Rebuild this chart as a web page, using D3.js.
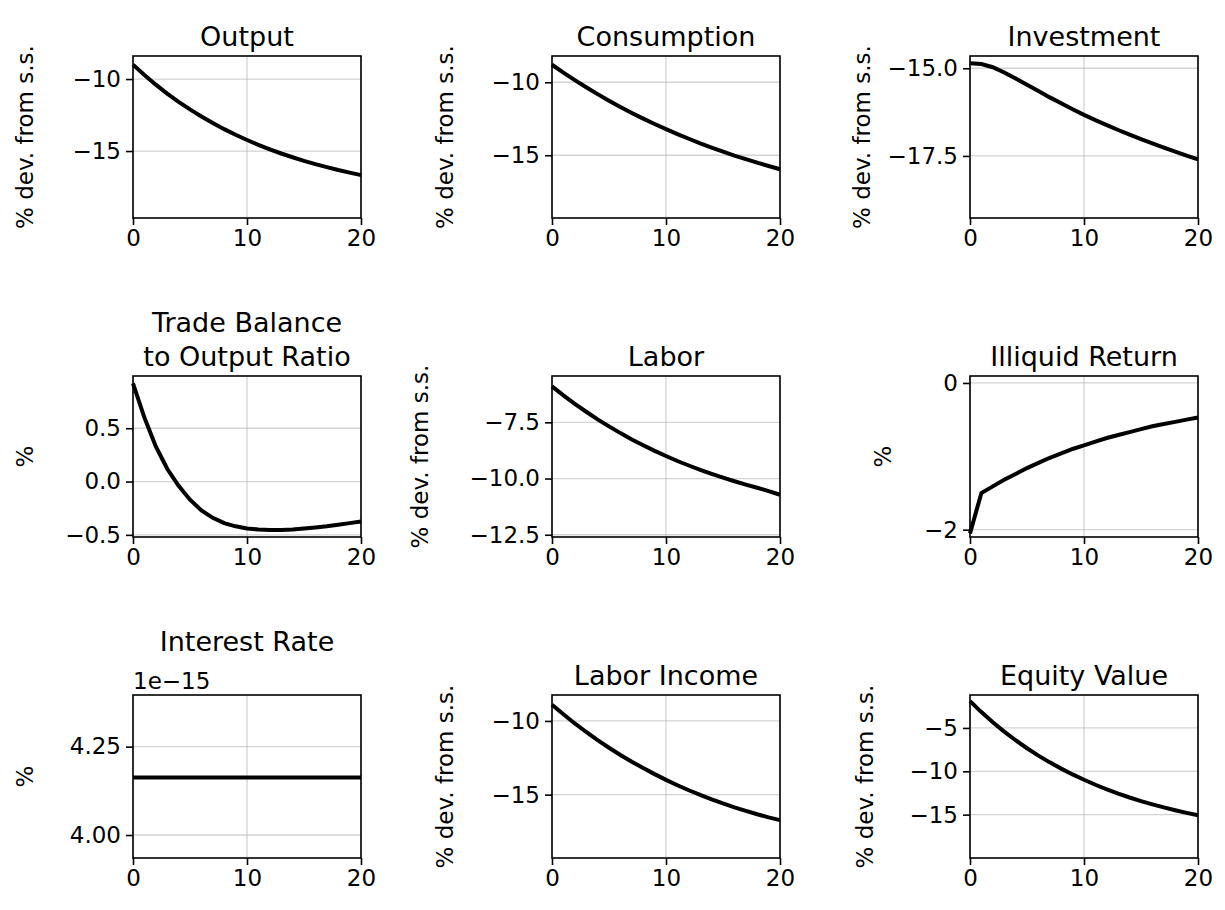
<!DOCTYPE html>
<html><head><meta charset="utf-8">
<script src="https://cdn.jsdelivr.net/npm/d3@7"></script>
<style>body{margin:0;background:#fff}text{font-family:"DejaVu Sans",sans-serif;fill:#000}</style>
</head><body><svg id="c" width="1225" height="910"></svg>
<script>
var periods = d3.range(0, 21);
var output = [-9.0,-9.72,-10.39,-11.01,-11.58,-12.11,-12.6,-13.06,-13.48,-13.87,-14.23,-14.57,-14.88,-15.17,-15.43,-15.68,-15.91,-16.12,-16.32,-16.5,-16.67];
var consumption = [-8.8,-9.34,-9.85,-10.34,-10.81,-11.26,-11.69,-12.1,-12.49,-12.86,-13.21,-13.55,-13.87,-14.18,-14.47,-14.75,-15.02,-15.27,-15.51,-15.74,-15.96];
var investment = [-14.86,-14.88,-14.97,-15.12,-15.29,-15.47,-15.65,-15.83,-16.0,-16.17,-16.33,-16.48,-16.62,-16.76,-16.89,-17.02,-17.14,-17.26,-17.38,-17.49,-17.6];
var tradeBalance = [0.92,0.6,0.33,0.12,-0.04,-0.17,-0.27,-0.34,-0.39,-0.42,-0.44,-0.45,-0.455,-0.455,-0.45,-0.44,-0.43,-0.42,-0.405,-0.39,-0.375];
var labor = [-5.9,-6.3,-6.68,-7.03,-7.37,-7.68,-7.98,-8.26,-8.52,-8.77,-9.0,-9.22,-9.42,-9.61,-9.79,-9.96,-10.12,-10.27,-10.41,-10.56,-10.72];
var illiquid = [-2.05,-1.5,-1.41,-1.32,-1.24,-1.16,-1.09,-1.02,-0.96,-0.9,-0.85,-0.8,-0.75,-0.71,-0.67,-0.63,-0.59,-0.56,-0.53,-0.5,-0.47];
var interest = [4.163,4.163,4.163,4.163,4.163,4.163,4.163,4.163,4.163,4.163,4.163,4.163,4.163,4.163,4.163,4.163,4.163,4.163,4.163,4.163,4.163];
var laborIncome = [-8.9,-9.55,-10.17,-10.75,-11.3,-11.82,-12.31,-12.77,-13.2,-13.61,-14.0,-14.36,-14.7,-15.02,-15.32,-15.6,-15.86,-16.1,-16.33,-16.54,-16.73];
var equity = [-1.9,-3.17,-4.34,-5.42,-6.42,-7.34,-8.19,-8.97,-9.69,-10.36,-10.98,-11.55,-12.08,-12.57,-13.02,-13.43,-13.81,-14.16,-14.49,-14.79,-15.07];
var xTicks = [0, 10, 20];

var devLabel = "% dev. from s.s.";
var panels = [
  {title:["Output"], data:output, dom:[-19.65,-8.4], ticks:[-15,-10], fmt:"d", x:133, y:56, h:162, lx:25, ylab:devLabel},
  {title:["Consumption"], data:consumption, dom:[-19.3,-8.2], ticks:[-15,-10], fmt:"d", x:552, y:56, h:162, lx:445, ylab:devLabel},
  {title:["Investment"], data:investment, dom:[-19.27,-14.65], ticks:[-17.5,-15], fmt:".1f", x:970, y:56, h:162, lx:862, ylab:devLabel},
  {title:["Trade Balance","to Output Ratio"], data:tradeBalance, dom:[-0.52,0.99], ticks:[-0.5,0,0.5], fmt:".1f", x:133, y:376, h:161, lx:25, ylab:"%"},
  {title:["Labor"], data:labor, dom:[-12.6,-5.44], ticks:[-12.5,-10,-7.5], fmt:".1f", x:552, y:376, h:161, lx:420, ylab:devLabel},
  {title:["Illiquid Return"], data:illiquid, dom:[-2.1,0.095], ticks:[-2,0], fmt:"d", x:970, y:376, h:161, lx:883, ylab:"%"},
  {title:["Interest Rate"], data:interest, dom:[3.935,4.396], ticks:[4.0,4.25], fmt:".2f", x:133, y:695, h:163, lx:25, ylab:"%", offset:"1e\u221215"},
  {title:["Labor Income"], data:laborIncome, dom:[-19.3,-8.24], ticks:[-15,-10], fmt:"d", x:552, y:695, h:163, lx:445, ylab:devLabel},
  {title:["Equity Value"], data:equity, dom:[-20,-1.2], ticks:[-15,-10,-5], fmt:"d", x:970, y:695, h:163, lx:865, ylab:devLabel}
];

var svg = d3.select("#c");
var W = 228;
panels.forEach(function(p){
  var g = svg.append("g").attr("transform", "translate(" + p.x + "," + p.y + ")");
  var x = d3.scaleLinear().domain([0, 20]).range([0, W]);
  var y = d3.scaleLinear().domain(p.dom).range([p.h, 0]);
  var f = d3.format(p.fmt);
  // grid
  g.selectAll(".gx").data(xTicks).enter().append("line")
    .attr("x1", d => x(d)).attr("x2", d => x(d)).attr("y1", 0).attr("y2", p.h)
    .attr("stroke", "#b0b0b0").attr("stroke-opacity", 0.55).attr("stroke-width", 1.3);
  g.selectAll(".gy").data(p.ticks).enter().append("line")
    .attr("x1", 0).attr("x2", W).attr("y1", d => y(d)).attr("y2", d => y(d))
    .attr("stroke", "#b0b0b0").attr("stroke-opacity", 0.55).attr("stroke-width", 1.3);
  // line
  g.append("path").datum(p.data)
    .attr("fill", "none").attr("stroke", "#000").attr("stroke-width", 4)
    .attr("d", d3.line().x((d, i) => x(periods[i])).y(d => y(d)));
  // axes
  var ax = g.append("g").attr("transform", "translate(0," + p.h + ")")
    .call(d3.axisBottom(x).tickValues(xTicks).tickSize(7).tickPadding(5).tickFormat(d3.format("d")));
  var ay = g.append("g")
    .call(d3.axisLeft(y).tickValues(p.ticks).tickSize(7).tickPadding(5)
      .tickFormat(d => f(d).replace("-", "\u2212")));
  [ax, ay].forEach(function(a){
    a.attr("font-size", null).attr("font-family", null);
    a.select(".domain").remove();
    a.selectAll("line").attr("stroke", "#000").attr("stroke-width", 1.6);
    a.selectAll("text").style("font-size", "23px");
  });
  g.append("rect").attr("width", W).attr("height", p.h)
    .attr("fill", "none").attr("stroke", "#000").attr("stroke-width", 1.6);
  // title
  var n = p.title.length;
  p.title.forEach(function(t, i){
    g.append("text").attr("x", W / 2).attr("y", -10 - (n - 1 - i) * 34 - (p.offset ? 34 : 0))
      .attr("text-anchor", "middle").style("font-size", "27px").text(t);
  });
  if (p.offset) {
    g.append("text").attr("x", 0).attr("y", -6).style("font-size", "23px").text(p.offset);
  }
  // y label
  g.append("text")
    .attr("transform", "translate(" + (p.lx - p.x + 8) + "," + (p.h / 2) + ") rotate(-90)")
    .attr("text-anchor", "middle").style("font-size", "23px").text(p.ylab);
});
</script></body></html>
